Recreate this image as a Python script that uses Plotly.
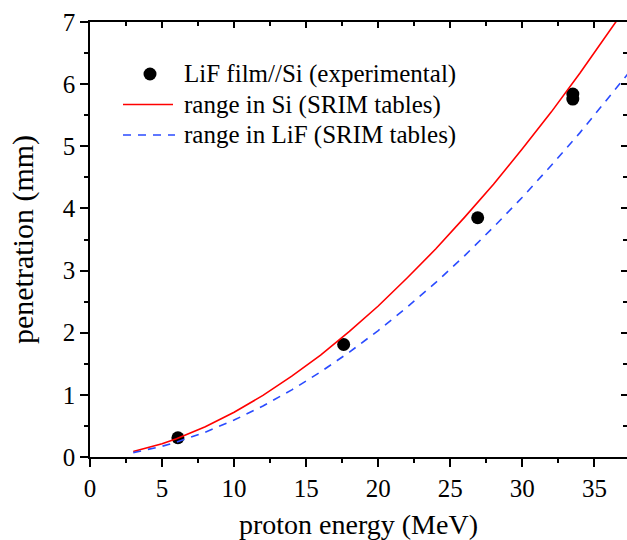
import plotly.graph_objects as go

# Experimental points
exp_energy = [6.1, 17.6, 26.9, 33.5, 33.5]
exp_pen = [0.31, 1.81, 3.85, 5.84, 5.76]

# SRIM range curves
curve_energy = [3, 4, 5, 6, 8, 10, 12, 14, 16, 18, 20, 22, 24, 26, 28, 30, 32, 34, 36, 37.3]
range_si = [0.087, 0.144, 0.213, 0.294, 0.486, 0.72, 0.991, 1.30, 1.64, 2.02, 2.43, 2.88,
            3.35, 3.86, 4.39, 4.96, 5.55, 6.18, 6.83, 7.27]
range_lif = [0.070, 0.117, 0.173, 0.240, 0.400, 0.594, 0.821, 1.080, 1.369, 1.688, 2.035,
             2.41, 2.81, 3.24, 3.70, 4.18, 4.69, 5.22, 5.78, 6.16]

x_ticks = [0, 5, 10, 15, 20, 25, 30, 35]
y_ticks = [0, 1, 2, 3, 4, 5, 6, 7]

legend_labels = ["LiF film//Si (experimental)", "range in Si (SRIM tables)",
                 "range in LiF (SRIM tables)"]

FONT = "Liberation Serif, Times New Roman, serif"
RED = "#ff0000"
BLUE = "#2a4bff"

fig = go.Figure()
fig.add_trace(go.Scatter(x=exp_energy, y=exp_pen, mode="markers",
                         marker=dict(color="black", size=13, symbol="circle"),
                         name=legend_labels[0], showlegend=False))
fig.add_trace(go.Scatter(x=curve_energy, y=range_si, mode="lines",
                         line=dict(color=RED, width=1.6),
                         name=legend_labels[1], showlegend=False))
fig.add_trace(go.Scatter(x=curve_energy, y=range_lif, mode="lines",
                         line=dict(color=BLUE, width=1.6, dash="8px,7px"),
                         name=legend_labels[2], showlegend=False))
# invisible helper trace for the mirrored axes
fig.add_trace(go.Scatter(x=[0], y=[0], xaxis="x2", yaxis="y2", mode="markers",
                         marker=dict(opacity=0), showlegend=False, hoverinfo="skip"))

xr = [0, 37.26]
yr = [0, 7]

# ---- hand-built legend (paper coordinates) ----
L, B, W, H = 90, 457, 537, 435
def px(x):
    return (x - L) / W
def py(y):
    return (B - y) / H

rows = [74, 104.5, 135]
shapes = [
    dict(type="circle", xref="paper", yref="paper", x0=px(143.5), x1=px(156.5),
         y0=py(80.5), y1=py(67.5), fillcolor="black", line=dict(color="black", width=0)),
    dict(type="line", xref="paper", yref="paper", x0=px(123), x1=px(173),
         y0=py(rows[1]), y1=py(rows[1]), line=dict(color=RED, width=1.6)),
    dict(type="line", xref="paper", yref="paper", x0=px(123), x1=px(175),
         y0=py(rows[2]), y1=py(rows[2]), line=dict(color=BLUE, width=1.6, dash="8px,7px")),
]
annotations = [
    dict(text=t, xref="paper", yref="paper", x=px(182), y=py(r), xanchor="left",
         yanchor="middle", showarrow=False, font=dict(family=FONT, size=25, color="black"))
    for t, r in zip(legend_labels, rows)
]

fig.update_layout(
    width=627, height=540,
    margin=dict(l=90, r=0, t=22, b=83),
    paper_bgcolor="white", plot_bgcolor="white",
    font=dict(family=FONT, color="black", size=25),
    showlegend=False,
    shapes=shapes,
    annotations=annotations,
    xaxis=dict(range=xr, tickvals=x_ticks, ticks="outside", ticklen=8, tickwidth=1.5,
               tickcolor="black", showline=True, linecolor="black", linewidth=1.5,
               showgrid=False, zeroline=False,
               minor=dict(dtick=2.5, tick0=0, ticks="outside", ticklen=4, tickwidth=1.5,
                          tickcolor="black", showgrid=False),
               tickfont=dict(size=25),
               title=dict(text="proton energy (MeV)", font=dict(size=28), standoff=14)),
    yaxis=dict(range=yr, tickvals=y_ticks, ticks="outside", ticklen=8, tickwidth=1.5,
               tickcolor="black", showline=True, linecolor="black", linewidth=1.5,
               showgrid=False, zeroline=False,
               minor=dict(dtick=0.5, tick0=0, ticks="outside", ticklen=4, tickwidth=1.5,
                          tickcolor="black", showgrid=False),
               tickfont=dict(size=25),
               title=dict(text="penetration (mm)", font=dict(size=30), standoff=20)),
    xaxis2=dict(range=xr, overlaying="x", side="top", tickvals=x_ticks, ticks="inside",
                ticklen=6, tickwidth=1.5, tickcolor="black", showticklabels=False,
                showline=True, linecolor="black", linewidth=1.5, showgrid=False,
                zeroline=False,
                minor=dict(dtick=2.5, tick0=0, ticks="inside", ticklen=4, tickwidth=1.5,
                           tickcolor="black", showgrid=False)),
    yaxis2=dict(range=yr, overlaying="y", side="right", tickvals=y_ticks, ticks="inside",
                ticklen=6, tickwidth=1.5, tickcolor="black", showticklabels=False,
                showline=False, showgrid=False, zeroline=False,
                minor=dict(dtick=0.5, tick0=0, ticks="inside", ticklen=4, tickwidth=1.5,
                           tickcolor="black", showgrid=False)),
)

fig.write_html("out.html")
